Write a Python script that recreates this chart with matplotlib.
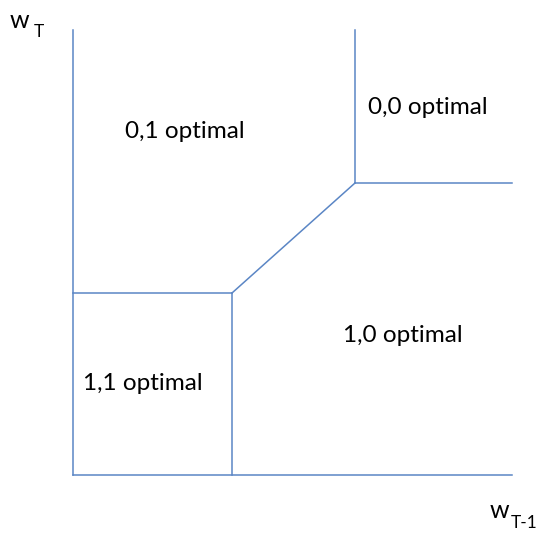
import matplotlib.pyplot as plt

plt.rcParams['font.family'] = ['Lato', 'DejaVu Sans']

# boundary points (x = w_{T-1}, y = w_T), origin at axis corner
x_max, y_max = 439, 445
knee_low = (159, 182)
knee_high = (282, 292)

regions = ["0,1 optimal", "0,0 optimal", "1,0 optimal", "1,1 optimal"]
region_x = [112, 355, 330, 70]
region_y = [344, 368, 140, 91]

blue = '#5b86c5'

fig = plt.figure(figsize=(5.4, 5.48), dpi=100)
ax = fig.add_axes([0, 0, 1, 1])
ax.set_xlim(-73, 467)
ax.set_ylim(-73, 475)
ax.axis('off')

# axes
ax.plot([0, 0], [0, y_max], color=blue, lw=1.1)
ax.plot([0, x_max], [0, 0], color=blue, lw=1.1)

# region boundaries
ax.plot([0, knee_low[0]], [knee_low[1], knee_low[1]], color=blue, lw=1.1)
ax.plot([knee_low[0], knee_low[0]], [0, knee_low[1]], color=blue, lw=1.1)
ax.plot([knee_low[0], knee_high[0]], [knee_low[1], knee_high[1]], color=blue, lw=1.1)
ax.plot([knee_high[0], knee_high[0]], [knee_high[1], y_max], color=blue, lw=1.1)
ax.plot([knee_high[0], x_max], [knee_high[1], knee_high[1]], color=blue, lw=1.1)

for lbl, x, y in zip(regions, region_x, region_y):
    ax.text(x, y, lbl, fontsize=17.5, ha='center', va='center')

# axis labels
ax.text(-63, 454, "w", fontsize=18, ha='left', va='center')
ax.text(-39, 443, "T", fontsize=12.5, ha='left', va='center')
ax.text(417, -36, "w", fontsize=18, ha='left', va='center')
ax.text(438, -48, "T-1", fontsize=12.5, ha='left', va='center')

fig.savefig('out.png', dpi=100)
